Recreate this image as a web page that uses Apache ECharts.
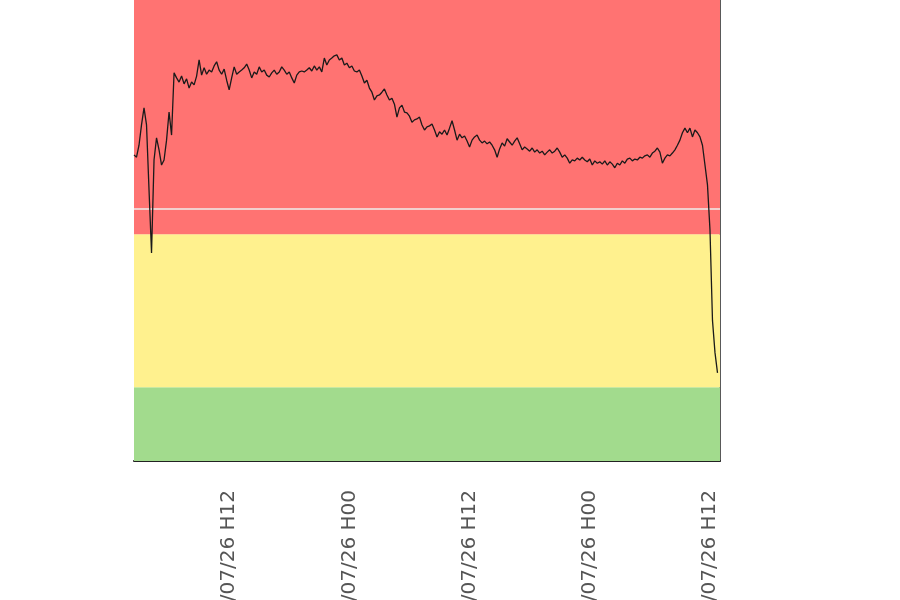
<!DOCTYPE html>
<html>
<head>
<meta charset="utf-8">
<script src="https://cdn.jsdelivr.net/npm/echarts@6/dist/echarts.min.js"></script>
<style>
  html, body { margin: 0; padding: 0; background: #fff; }
</style>
</head>
<body>
<div id="main" style="width: 900px; height: 600px;"></div>
<script>
// readings every 15 minutes, first one at 24/07/26 02:30
const startDay = 24
const startMinute = 150
const stepMinutes = 15

const values = [
  66.4, 65.9, 68.5, 72.9, 76.6, 72.9, 58.8, 45.1, 65.3, 70.1,
  67.5, 64.2, 65.3, 69.6, 75.7, 70.7, 84.2, 83.1, 82.2, 83.5,
  81.8, 82.9, 80.9, 82.2, 81.6, 83.5, 87.0, 83.7, 85.3, 83.9,
  84.8, 84.4, 85.7, 86.6, 84.8, 83.9, 85.0, 82.6, 80.5, 83.1,
  85.5, 83.9, 84.4, 84.8, 85.3, 86.1, 84.8, 83.1, 84.4, 83.9,
  85.5, 84.4, 84.8, 83.7, 83.3, 84.2, 84.8, 83.9, 84.4, 85.5,
  84.8, 83.9, 84.4, 83.1, 82.0, 83.7, 84.4, 84.6, 84.4, 84.8,
  85.3, 84.6, 85.7, 84.8, 85.5, 84.4, 87.4, 85.9, 87.0, 87.4,
  87.9, 88.1, 87.0, 87.4, 85.9, 86.3, 85.3, 85.7, 84.6, 84.4,
  84.8, 83.5, 82.0, 82.6, 80.9, 80.0, 78.3, 79.2, 79.4, 80.0,
  80.7, 79.4, 78.3, 78.7, 77.4, 74.6, 76.6, 77.2, 75.7, 75.5,
  74.8, 73.5, 74.0, 74.2, 74.6, 72.9, 71.8, 72.5, 72.7, 73.1,
  71.8, 70.3, 71.4, 70.9, 71.8, 70.7, 72.2, 73.8, 71.8, 69.6,
  70.9, 70.1, 70.5, 69.4, 68.1, 69.6, 70.3, 70.7, 69.6, 69.0,
  69.4, 68.8, 69.2, 68.5, 67.5, 65.9, 67.7, 69.0, 68.3, 69.9,
  69.2, 68.5, 69.4, 70.1, 68.8, 67.5, 68.1, 67.7, 67.2, 67.9,
  67.0, 67.5, 66.8, 67.2, 66.4, 67.0, 67.5, 66.8, 67.2, 67.9,
  67.0, 65.9, 66.4, 65.7, 64.6, 65.3, 65.1, 65.7, 65.3, 65.9,
  65.3, 64.9, 65.5, 64.2, 65.1, 64.6, 64.9, 64.4, 65.1, 64.2,
  64.9, 64.4, 63.6, 64.6, 64.2, 65.1, 64.6, 65.5, 65.7, 65.1,
  65.5, 65.3, 65.9, 65.7, 66.2, 66.4, 65.9, 66.8, 67.2, 67.9,
  67.0, 64.6, 65.7, 66.4, 66.2, 66.8, 67.5, 68.5, 69.6, 71.2,
  72.2, 71.2, 72.2, 70.3, 71.8, 71.2, 70.3, 68.5, 64.2, 59.9,
  50.1, 30.5, 23.5, 19.1, null
]

// threshold bands and reference level
const greenBand = [0, 16]
const yellowBand = [16, 49.2]
const redBand = [49.2, 100]
const refLevel = 54.7

function pad(n) { return (n < 10 ? '0' : '') + n }

const categories = []
for (let i = 0; i < values.length; i++) {
  const m = startMinute + i * stepMinutes
  const day = startDay + Math.floor(m / 1440)
  const hour = Math.floor((m % 1440) / 60)
  const min = m % 60
  categories.push(pad(day) + '/07/26 H' + pad(hour) + (min ? ':' + pad(min) : ''))
}
// only the H00 / H12 marks get a label
const tickLabels = categories.filter(c => /H(00|12)$/.test(c))

const myChart = echarts.init(document.getElementById('main'))
const option = {
  backgroundColor: '#ffffff',
  animation: false,
  grid: {
    left: 134,
    right: 180,
    top: 0,
    bottom: 139,
    outerBoundsMode: 'none'
  },
  xAxis: {
    type: 'category',
    data: categories,
    boundaryGap: false,
    axisLine: { show: true, lineStyle: { color: '#222', width: 2 } },
    axisTick: { show: false },
    splitLine: { show: false },
    axisLabel: {
      interval: (index, value) => tickLabels.indexOf(value) !== -1,
      rotate: 90,
      margin: 29,
      fontSize: 20,
      color: '#555',
      fontFamily: 'DejaVu Sans'
    }
  },
  yAxis: {
    type: 'value',
    position: 'right',
    min: 0,
    max: 100,
    axisLine: { show: true, lineStyle: { color: '#222', width: 1.5 } },
    axisTick: { show: false },
    axisLabel: { show: false },
    splitLine: { show: false }
  },
  series: [
    {
      type: 'line',
      data: values,
      showSymbol: false,
      connectNulls: false,
      lineStyle: { color: '#1a1a1a', width: 1.3 },
      z: 5,
      markArea: {
        silent: true,
        data: [
          [{ yAxis: greenBand[0], itemStyle: { color: '#a2db8d' } }, { yAxis: greenBand[1] }],
          [{ yAxis: yellowBand[0], itemStyle: { color: '#fff18e' } }, { yAxis: yellowBand[1] }],
          [{ yAxis: redBand[0], itemStyle: { color: '#ff7372' } }, { yAxis: redBand[1] }]
        ]
      },
      markLine: {
        silent: true,
        symbol: 'none',
        label: { show: false },
        lineStyle: { color: '#eeeeee', width: 1.5, type: 'solid' },
        data: [{ yAxis: refLevel }]
      }
    }
  ]
}
myChart.setOption(option)
</script>
</body>
</html>
